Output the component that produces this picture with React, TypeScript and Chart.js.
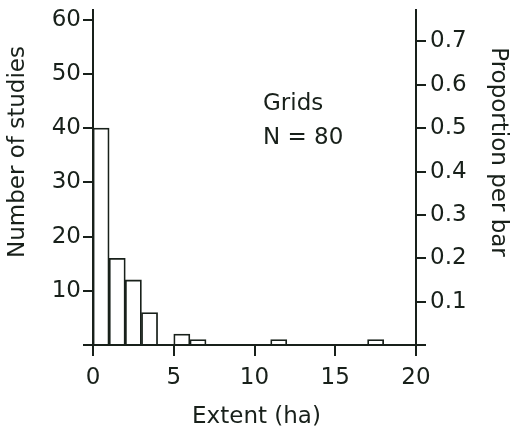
import React, { useEffect, useRef } from 'react';
import { Chart, registerables } from 'chart.js';

Chart.register(...registerables);

// Histogram bins (lower edge, ha) and number of studies per bin
const binStarts = [0, 1, 2, 3, 4, 5, 6, 7, 8, 9, 10, 11, 12, 13, 14, 15, 16, 17, 18, 19];
const binCounts = [40, 16, 12, 6, 0, 2, 1, 0, 0, 0, 0, 1, 0, 0, 0, 0, 0, 1, 0, 0];
const binWidth = 1;
const totalN = 80;

// Axes
const xTickValues = [0, 5, 10, 15, 20];
const leftTickValues = [0, 10, 20, 30, 40, 50, 60];
const rightTickValues = [0, 0.1, 0.2, 0.3, 0.4, 0.5, 0.6, 0.7];
const xMin = 0;
const xMax = 20;
const countMax = 61.8;

// Texts
const xTitle = 'Extent (ha)';
const leftTitle = 'Number of studies';
const rightTitle = 'Proportion per bar';
const annotationLines = ['Grids', 'N = ' + totalN];

const INK = '#18201a';
const FONT_FAMILY = '"DejaVu Sans", "Liberation Sans", Arial, sans-serif';
const FONT_SIZE = 23;

const textPlugin = {
  id: 'textPlugin',
  afterDraw(chart: any) {
    const ctx = chart.ctx as CanvasRenderingContext2D;
    const area = chart.chartArea;
    ctx.save();
    ctx.fillStyle = INK;
    ctx.font = `${FONT_SIZE}px ${FONT_FAMILY}`;
    ctx.textBaseline = 'alphabetic';

    // annotation
    ctx.textAlign = 'left';
    ctx.fillText(annotationLines[0], 263, 110);
    ctx.fillText(annotationLines[1], 263, 144);

    // x title
    ctx.textAlign = 'center';
    ctx.fillText(xTitle, (area.left + area.right) / 2 + 2, 423);

    // left title (reads bottom to top)
    ctx.save();
    ctx.translate(24, 152);
    ctx.rotate(-Math.PI / 2);
    ctx.textAlign = 'center';
    ctx.fillText(leftTitle, 0, 0);
    ctx.restore();

    // right title (reads top to bottom)
    ctx.save();
    ctx.translate(492, 152);
    ctx.rotate(Math.PI / 2);
    ctx.textAlign = 'center';
    ctx.fillText(rightTitle, 0, 0);
    ctx.restore();

    ctx.restore();
  },
};

export default function App() {
  const canvasRef = useRef<HTMLCanvasElement | null>(null);

  useEffect(() => {
    if (!canvasRef.current) return;
    const data = binStarts.map((s, i) => ({ x: s + binWidth / 2, y: binCounts[i] }));
    const tickFont = { family: FONT_FAMILY, size: FONT_SIZE };

    const chart = new Chart(canvasRef.current, {
      type: 'bar',
      data: {
        datasets: [
          {
            label: 'Number of studies',
            data,
            xAxisID: 'x',
            yAxisID: 'y',
            backgroundColor: 'rgba(255,255,255,0)',
            borderColor: INK,
            borderWidth: 1.1,
            barPercentage: 1,
            categoryPercentage: 1,
          } as any,
        ],
      },
      options: {
        animation: false,
        responsive: false,
        devicePixelRatio: 1,
        layout: { padding: { top: 10, left: 0, right: 0, bottom: 0 } },
        plugins: { legend: { display: false }, tooltip: { enabled: false } },
        scales: {
          x: {
            type: 'linear',
            position: 'bottom',
            min: xMin,
            max: xMax,
            offset: false,
            afterBuildTicks: (scale: any) => {
              scale.ticks = xTickValues.map((v) => ({ value: v }));
            },
            afterFit: (scale: any) => {
              scale.height = 85;
              scale.paddingLeft = 0;
              scale.paddingRight = 0;
            },
            ticks: {
              color: INK,
              font: tickFont,
              padding: 8,
              maxRotation: 0,
              autoSkip: false,
              callback: (v: any) => String(v),
            },
            grid: {
              display: true,
              offset: false,
              drawOnChartArea: false,
              drawTicks: true,
              tickLength: 11,
              tickColor: INK,
              tickWidth: 2,
              color: INK,
              lineWidth: 2,
            },
            border: { display: true, color: INK, width: 2 },
          },
          y: {
            type: 'linear',
            position: 'left',
            min: 0,
            max: countMax,
            afterBuildTicks: (scale: any) => {
              scale.ticks = leftTickValues.map((v) => ({ value: v }));
            },
            afterFit: (scale: any) => {
              scale.width = 93;
              scale.paddingTop = 0;
              scale.paddingBottom = 0;
            },
            ticks: {
              color: INK,
              font: tickFont,
              padding: 2,
              autoSkip: false,
              callback: (v: any) => (v === 0 ? '' : String(v)),
            },
            grid: {
              display: true,
              drawOnChartArea: false,
              drawTicks: true,
              tickLength: 10,
              tickColor: INK,
              tickWidth: 2,
              color: INK,
              lineWidth: 2,
            },
            border: { display: true, color: INK, width: 2 },
          },
          y2: {
            type: 'linear',
            position: 'right',
            min: 0,
            max: countMax / totalN,
            afterBuildTicks: (scale: any) => {
              scale.ticks = rightTickValues.map((v) => ({ value: v }));
            },
            afterFit: (scale: any) => {
              scale.width = 95;
              scale.paddingTop = 0;
              scale.paddingBottom = 0;
            },
            ticks: {
              color: INK,
              font: tickFont,
              padding: 4,
              autoSkip: false,
              callback: (v: any) => (v === 0 ? '' : Number(v).toFixed(1)),
            },
            grid: {
              display: true,
              drawOnChartArea: false,
              drawTicks: true,
              tickLength: 10,
              tickColor: INK,
              tickWidth: 2,
              color: INK,
              lineWidth: 2,
            },
            border: { display: true, color: INK, width: 2 },
          },
        },
      } as any,
      plugins: [textPlugin],
    });

    return () => chart.destroy();
  }, []);

  return (
    <div style={{ position: 'absolute', left: 0, top: 0, width: 511, height: 430, background: '#fff' }}>
      <canvas ref={canvasRef} width={511} height={430} style={{ display: 'block', width: 511, height: 430 }} />
    </div>
  );
}
